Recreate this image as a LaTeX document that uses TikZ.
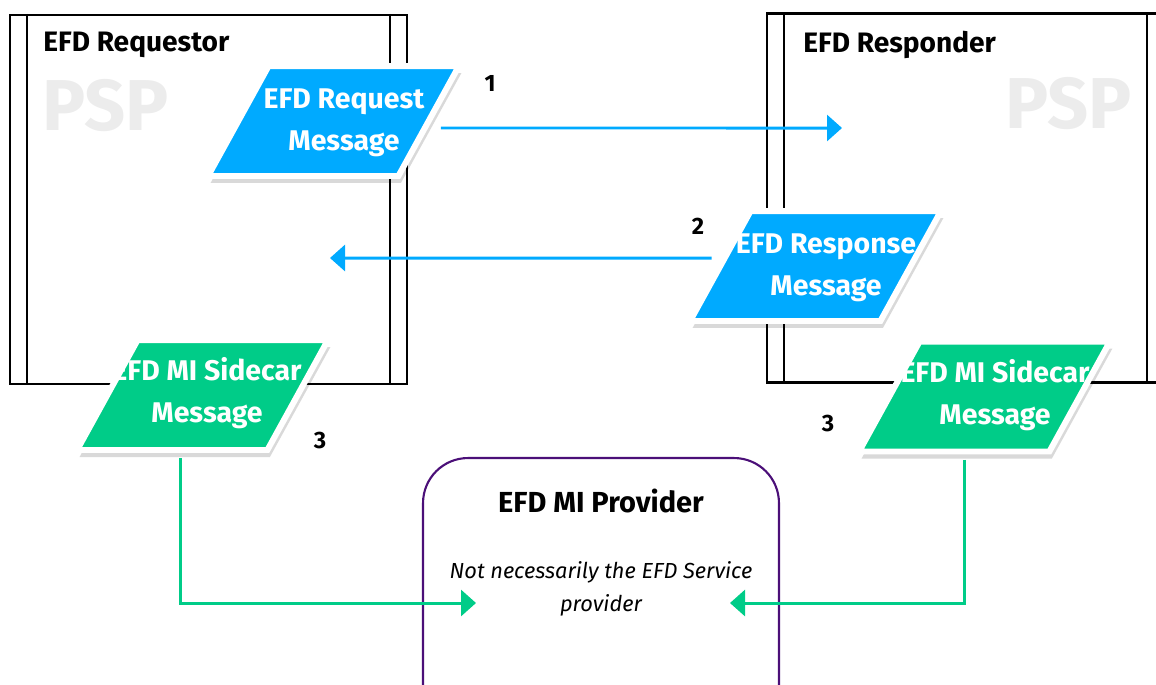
\documentclass[tikz,border=0pt]{standalone}
\usepackage{fontspec}
\setmainfont{Fira Sans}
\usetikzlibrary{shapes.geometric}
\usetikzlibrary{positioning}
\usetikzlibrary{arrows.meta}
\definecolor{msgblue}{RGB}{0,170,255}
\definecolor{msggreen}{RGB}{0,204,136}
\definecolor{provpurple}{RGB}{75,15,120}
\definecolor{pspgray}{RGB}{236,236,236}

\tikzset{
  pspbox/.style={draw, line width=1.2pt, minimum width=7.94cm, minimum height=7.38cm, inner sep=0pt},
  boxtitle/.style={font=\bfseries\fontsize{16}{18}\selectfont, inner sep=0pt},
  pspmark/.style={text=pspgray, font=\bfseries\fontsize{41}{44}\selectfont, inner sep=0pt},
  msgshape/.style={trapezium, trapezium left angle=65, trapezium right angle=115,
    trapezium stretches=true, minimum width=5.02cm, minimum height=2.2cm, inner sep=2pt},
  msg/.style={msgshape, fill=#1, draw=white, line width=3.4pt},
  msgshadow/.style={msgshape, fill=black, opacity=0.15},
  msgtext/.style={text=white, font=\bfseries\fontsize{16.2}{23.8}\selectfont, align=center, inner sep=0pt},
  stepnum/.style={font=\bfseries\fontsize{13.5}{15}\selectfont, inner sep=0pt},
  provider/.style={draw=provpurple, line width=1.2pt, rounded corners=0.9cm,
    minimum width=7.12cm, minimum height=6cm, inner sep=0pt},
  bluearrow/.style={draw=msgblue, line width=1.7pt, -{Triangle[length=0.3cm, width=0.52cm]}},
  greenarrow/.style={draw=msggreen, line width=1.7pt, -{Triangle[length=0.3cm, width=0.52cm]}},
}

\begin{document}
\begin{tikzpicture}[x=0.02cm, y=-0.02cm]
  \useasboundingbox (0,0) rectangle (1156,684);
  \clip (0,0) rectangle (1156,684);

  % the two PSP boxes
  \node[pspbox] (reqbox) at (208.5,199.5) {};
  \draw[line width=1.2pt] ([xshift=0.36cm]reqbox.north west) -- ([xshift=0.36cm]reqbox.south west);
  \draw[line width=1.2pt] ([xshift=-0.36cm]reqbox.north east) -- ([xshift=-0.36cm]reqbox.south east);
  \node[boxtitle, anchor=base west] (reqtitle) at (43,51) {EFD Requestor};
  \node[pspmark, anchor=base west] (reqpsp) at (42,130) {PSP};

  \node[pspbox] (respbox) at (965.5,198) {};
  \draw[line width=1.2pt] ([xshift=0.36cm]respbox.north west) -- ([xshift=0.36cm]respbox.south west);
  \draw[line width=1.2pt] ([xshift=-0.36cm]respbox.north east) -- ([xshift=-0.36cm]respbox.south east);
  \node[boxtitle, anchor=base west] (resptitle) at (803,52) {EFD Responder};
  \node[pspmark, anchor=base east] (resppsp) at (1132,128) {PSP};

  % provider
  \node[provider] (prov) at (601,608) {};
  \node[boxtitle, font=\bfseries\fontsize{16.5}{18}\selectfont, anchor=base] (provtitle) at (601,512) {EFD MI Provider};
  \node[font=\itshape\fontsize{12.4}{18.8}\selectfont, align=center, inner sep=0pt] (provnote) at (601,589) {Not necessarily the EFD Service\\provider};

  % messages
  \node[msgshadow] at (336,128) {};
  \node[msg=msgblue] (req) at (333.5,121) {};
  \node[msgtext] (reqtext) at (344,123) {EFD Request\\Message};
  \node[msgshadow] at (818,273) {};
  \node[msg=msgblue] (resp) at (815.5,266) {};
  \node[msgtext] (resptext) at (826,268) {EFD Response\\Message};
  \node[msgshadow] at (205,402) {};
  \node[msg=msggreen] (sideL) at (202.5,395) {};
  \node[msgtext] (sideLtext) at (207,393) {EFD MI Sidecar\\Message};
  \node[msgshadow] at (987,403.5) {};
  \node[msg=msggreen] (sideR) at (984.5,396.5) {};
  \node[msgtext] (sideRtext) at (995,395) {EFD MI Sidecar\\Message};

  \node[stepnum] (n1) at (490,83) {1};
  \node[stepnum] (n2) at (698,226) {2};
  \node[stepnum] (n3l) at (320,441) {3};
  \node[stepnum] (n3r) at (828,424) {3};

  % connectors
  \coordinate (reqin) at (842,128);
  \coordinate (respin) at (330,258);
  \coordinate (provinL) at (476,603);
  \coordinate (provinR) at (730,603);
  \draw[bluearrow, shorten <=5pt] ([yshift=-0.14cm]req.east) -- (reqin);
  \draw[bluearrow, shorten <=3pt] ([yshift=0.16cm]resp.west) -- (respin);
  \draw[greenarrow, shorten <=3pt] ([xshift=-0.45cm]sideL.south) |- (provinL);
  \draw[greenarrow, shorten <=3pt] ([xshift=-0.41cm]sideR.south) |- (provinR);
\end{tikzpicture}
\end{document}
